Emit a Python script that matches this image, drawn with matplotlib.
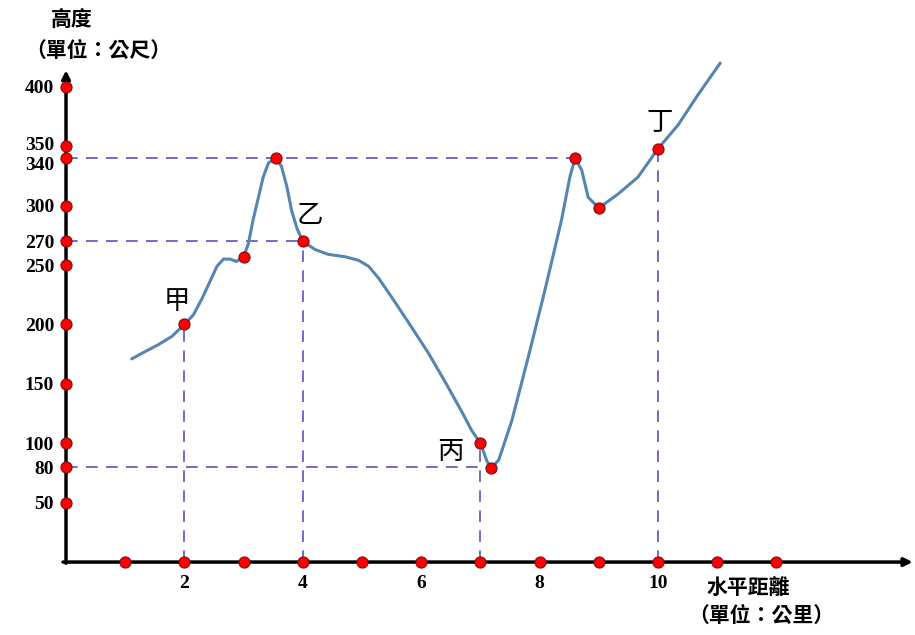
import matplotlib.pyplot as plt

plt.rcParams['font.family'] = ['Noto Sans CJK TC', 'DejaVu Sans']

# terrain profile (km, m)
curve_x = [1.11, 1.33, 1.56, 1.79, 2.0, 2.15, 2.29, 2.43, 2.55, 2.66, 2.77, 2.88, 3.0,
           3.08, 3.16, 3.25, 3.33, 3.42, 3.55, 3.64, 3.73, 3.81, 3.9, 4.0,
           4.21, 4.43, 4.71, 4.94, 5.11, 5.28, 5.5, 5.78, 6.12, 6.4, 6.68, 6.85,
           7.0, 7.11, 7.18, 7.31, 7.53, 7.81, 8.09, 8.37, 8.51, 8.6, 8.71, 8.82, 9.0,
           9.33, 9.66, 10.0, 10.34, 10.67, 11.05]
curve_y = [171, 177, 183, 190, 200, 208, 221, 236, 249, 255, 255, 253, 257,
           268, 288, 307, 324, 336, 340, 333, 316, 296, 281, 270,
           263, 259, 257, 254, 249, 239, 223, 202, 176, 152, 127, 111,
           100, 85, 79, 86, 119, 173, 229, 288, 324, 340, 330, 307, 298,
           310, 324, 348, 368, 393, 420]

# red dots on the curve
dot_x = [2, 3, 3.55, 4, 7, 7.18, 8.6, 9, 10]
dot_y = [200, 257, 340, 270, 100, 79, 340, 298, 348]

ytick_vals = [50, 80, 100, 150, 200, 250, 270, 300, 340, 350, 400]
xdot_vals = [1, 2, 3, 4, 5, 6, 7, 8, 9, 10, 11, 12]
xtick_labels = [2, 4, 6, 8, 10]

# guide lines: (x end, y) horizontal and (x, y top) vertical
hguides = [(8.6, 340), (4, 270), (7.18, 80)]
vguides = [(2, 200), (4, 270), (7, 100), (10, 348)]

point_names = ['甲', '乙', '丙', '丁']
name_x = [1.87, 4.12, 6.5, 10.03]
name_y = [219, 292, 93, 370]

fig = plt.figure(figsize=(9.15, 6.35), dpi=100)
ax = fig.add_axes([0, 0, 1, 1])
ax.set_xlim(-1.115, 14.34)
ax.set_ylim(-61.4, 473.1)
ax.axis('off')

dash_col = '#5b52c4'
for xe, y in hguides:
    ax.plot([0, xe], [y, y], color=dash_col, lw=1.2, dashes=(7, 5), zorder=1)
for x, yt in vguides:
    ax.plot([x, x], [0, yt], color=dash_col, lw=1.2, dashes=(7, 5), zorder=1)

# axes with arrows
ax.annotate('', xy=(14.3, 0), xytext=(-0.05, 0),
            arrowprops=dict(arrowstyle='-|>', lw=2.5, color='black',
                            mutation_scale=12, shrinkA=0, shrinkB=0), zorder=2)
ax.annotate('', xy=(0, 414), xytext=(0, -1),
            arrowprops=dict(arrowstyle='-|>', lw=2.5, color='black',
                            mutation_scale=12, shrinkA=0, shrinkB=0), zorder=2)

ax.plot(curve_x, curve_y, color='#5585b0', lw=2.2, solid_capstyle='round',
        solid_joinstyle='round', zorder=3)

dot_style = dict(ls='none', marker='o', ms=8, mfc='#ff0000', mec='#7a1010', mew=0.8, zorder=4)
ax.plot(dot_x, dot_y, **dot_style)
ax.plot([0] * len(ytick_vals), ytick_vals, **dot_style)
ax.plot(xdot_vals, [0] * len(xdot_vals), **dot_style)

num_font = dict(family='Liberation Serif', fontweight='bold', fontsize=14)
for v in ytick_vals:
    off = -4.5 if v == 340 else (2.5 if v == 350 else 0)
    ax.text(-0.2, v + off, str(v), ha='right', va='center_baseline', **num_font)
for v in xtick_labels:
    ax.text(v, -18, str(v), ha='center', va='center', **num_font)

for name, x, y in zip(point_names, name_x, name_y):
    ax.text(x, y, name, ha='center', va='center', fontsize=19)

ax.text(0.09, 457, '高度', ha='center', va='center', fontsize=15, fontweight='bold')
ax.text(0.54, 431, '（單位：公尺）', ha='center', va='center', fontsize=15, fontweight='bold')
ax.text(11.52, -21, '水平距離', ha='center', va='center', fontsize=15, fontweight='bold')
ax.text(11.74, -45, '（單位：公里）', ha='center', va='center', fontsize=15, fontweight='bold')

fig.savefig('out.png', dpi=100, facecolor='white')
